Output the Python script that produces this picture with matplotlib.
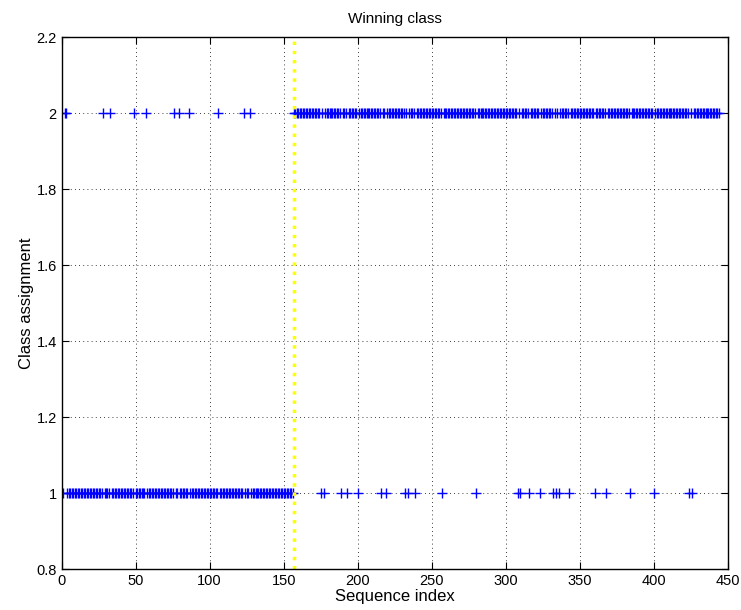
import numpy as np
import matplotlib
matplotlib.use("Agg")
import matplotlib.pyplot as plt

plt.rcParams["font.family"] = ["Liberation Sans", "DejaVu Sans"]

n_points = 444
change_point = 157
# indices before the change point that were assigned to class 2
early_class2 = [2, 3, 28, 33, 49, 57, 76, 79, 86, 106, 123, 127]
# indices after the change point that were assigned to class 1
late_class1 = [175, 177, 189, 193, 200, 216, 219, 232, 234, 239, 257, 280,
               308, 310, 316, 323, 332, 334, 336, 343, 360, 368, 384, 400,
               424, 426]

idx = np.arange(1, n_points + 1)
assign = np.where(idx < change_point, 1, 2)
assign[np.isin(idx, early_class2)] = 2
assign[np.isin(idx, late_class1)] = 1

fig = plt.figure(figsize=(7.41, 6.10), dpi=100)
ax = fig.add_axes([0.0831, 0.0672, 0.899, 0.8721])

ax.plot(idx, assign, "+", color="blue", markersize=7, markeredgewidth=1)
ax.plot([change_point, change_point], [0.8, 2.2], ":", color="yellow", linewidth=2.5)

ax.set_xlim(0, 450)
ax.set_ylim(0.8, 2.2)
ax.set_xticks(np.arange(0, 451, 50))
ax.set_yticks([0.8, 1, 1.2, 1.4, 1.6, 1.8, 2, 2.2])
ax.set_yticklabels(["0.8", "1", "1.2", "1.4", "1.6", "1.8", "2", "2.2"])
ax.grid(True, linestyle=(0, (1, 4)), color="black", linewidth=0.6)
ax.tick_params(direction="in", top=True, right=True, labelsize=10.5, length=5)
for s in ax.spines.values():
    s.set_linewidth(1)

ax.set_title("Winning class", fontsize=11, pad=10)
ax.set_xlabel("Sequence index", fontsize=12, labelpad=1)
ax.set_ylabel("Class assignment", fontsize=12, labelpad=2)

fig.savefig("out.png", dpi=100)
